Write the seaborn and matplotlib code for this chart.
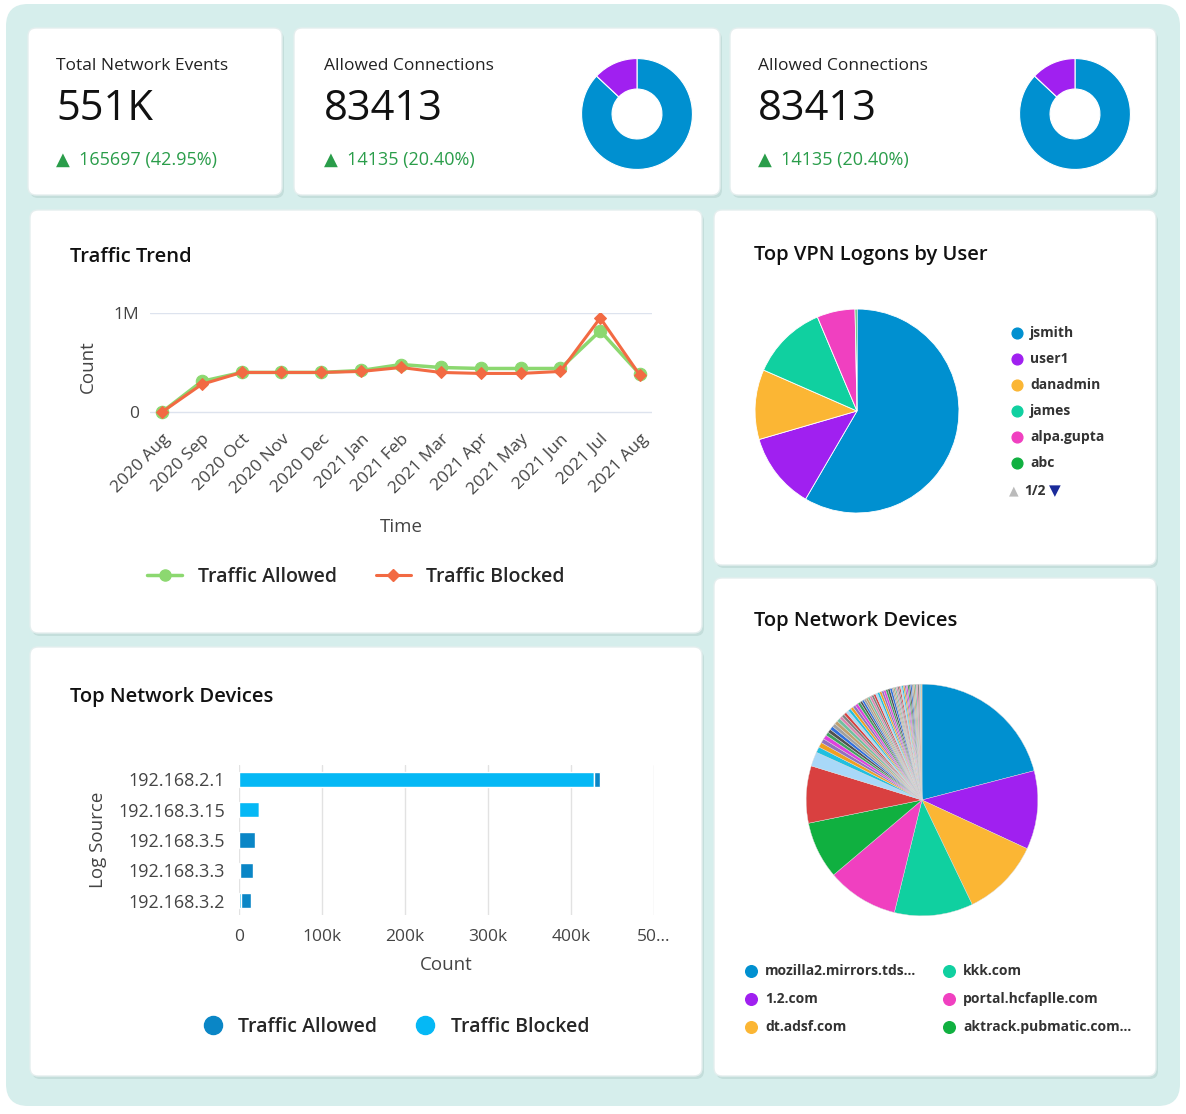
import numpy as np
import pandas as pd
import seaborn as sns
import matplotlib.pyplot as plt
from matplotlib.patches import FancyBboxPatch
from matplotlib.lines import Line2D

# -----------------------------
# Data
months = ["2020 Aug", "2020 Sep", "2020 Oct", "2020 Nov", "2020 Dec", "2021 Jan", "2021 Feb",
          "2021 Mar", "2021 Apr", "2021 May", "2021 Jun", "2021 Jul", "2021 Aug"]
allowed = [0.0, 0.31, 0.40, 0.40, 0.40, 0.42, 0.48, 0.45, 0.44, 0.44, 0.44, 0.82, 0.38]
blocked = [0.0, 0.28, 0.40, 0.40, 0.40, 0.41, 0.45, 0.40, 0.39, 0.39, 0.41, 0.95, 0.37]

sources = ["192.168.2.1", "192.168.3.15", "192.168.3.5", "192.168.3.3", "192.168.3.2"]
src_blocked = [428, 24, 0, 1.5, 2]
src_allowed = [7, 0, 19, 15, 13]

vpn_users = ["jsmith", "user1", "danadmin", "james", "alpa.gupta", "abc"]
vpn_values = [58, 12, 11, 12, 6, 0.3]
vpn_colors = ["#0090d0", "#a020f0", "#fbb634", "#10d0a0", "#f040c0", "#10b040"]

dev_names = ["mozilla2.mirrors.tds...", "1.2.com", "dt.adsf.com", "kkk.com",
             "portal.hcfaplle.com", "aktrack.pubmatic.com..."]
dev_values = [21, 11, 11, 11, 10, 8]
dev_colors = ["#0090d0", "#a020f0", "#fbb634", "#10d0a0", "#f040c0", "#10b040"]
dev_extra = [8, 2, 0.8, 0.7, 0.6, 0.6, 0.5, 0.5, 0.5, 0.5, 0.5, 0.5, 0.4, 0.4, 0.4,
             0.4, 0.4, 0.4, 0.4, 0.4, 0.4, 0.3, 0.3, 0.3, 0.3, 0.3, 0.3, 0.3, 0.3, 0.3,
             0.3, 0.3, 0.3, 0.3, 0.3, 0.3, 0.3, 0.2, 0.2, 0.2, 0.2, 0.2, 0.2, 0.2, 0.2,
             0.2, 0.2, 0.2, 0.2, 0.2, 0.2, 0.2, 0.2, 0.2, 0.2, 0.2, 0.1, 0.1, 0.1, 0.1]
extra_palette = ["#d94040", "#a8d8f8", "#20c0e0", "#f0a020", "#9070c0", "#e040e0", "#40a060",
                 "#505050", "#3070e0", "#a0a0a0", "#c0a070", "#70c0a0", "#e080b0", "#808080"]

kpis = [("Total Network Events", "551K", "165697 (42.95%)"),
        ("Allowed Connections", "83413", "14135 (20.40%)"),
        ("Allowed Connections", "83413", "14135 (20.40%)")]
donut_values = [87, 13]

# -----------------------------
sns.set_theme(style="white")
plt.rcParams["font.family"] = ["Open Sans", "DejaVu Sans"]
W, H = 1186, 1114
fig = plt.figure(figsize=(W / 100, H / 100), dpi=100)

bg = fig.add_axes([0, 0, 1, 1])
bg.set_xlim(0, W)
bg.set_ylim(H, 0)
bg.axis("off")
bg.add_patch(FancyBboxPatch((6, 4), W - 12, H - 12, boxstyle="round,pad=0,rounding_size=22",
                            fc="#d6eeec", ec="none"))
cards = [(28, 28, 254, 167), (294, 28, 426, 167), (730, 28, 426, 167),
         (30, 210, 672, 423), (714, 210, 442, 355), (30, 647, 672, 429), (714, 578, 442, 498)]
for x, y, w, h in cards:
    bg.add_patch(FancyBboxPatch((x + 2, y + 3), w, h, boxstyle="round,pad=0,rounding_size=8",
                                fc="#c4dedb", ec="none"))
    bg.add_patch(FancyBboxPatch((x, y), w, h, boxstyle="round,pad=0,rounding_size=8",
                                fc="white", ec="#e4eeee", lw=1))

# KPI texts
for (title, val, delta), x0 in zip(kpis, [56, 324, 758]):
    bg.text(x0, 66, title, fontsize=12.5, color="#222222", va="center")
    bg.text(x0, 109, val, fontsize=30, color="#111111", va="center", weight="medium")
    bg.text(x0, 160, "▲  " + delta, fontsize=13, color="#2a9d4a", va="center")

# Donuts
for cx in [637, 1075]:
    ax = fig.add_axes([(cx - 56) / W, 1 - (114 + 56) / H, 112 / W, 112 / H])
    ax.pie(donut_values, colors=["#0090d0", "#a020f0"], startangle=90, counterclock=False,
           wedgeprops=dict(width=0.55, edgecolor="white", linewidth=0.8))
    ax.set_xlim(-1.01, 1.01)
    ax.set_ylim(-1.01, 1.01)

# Card titles
bg.text(70, 257, "Traffic Trend", fontsize=14.5, color="#111111", va="center", weight="semibold")
bg.text(754, 255, "Top VPN Logons by User", fontsize=14.5, color="#111111", va="center", weight="semibold")
bg.text(70, 697, "Top Network Devices", fontsize=14.5, color="#111111", va="center", weight="semibold")
bg.text(754, 621, "Top Network Devices", fontsize=14.5, color="#111111", va="center", weight="semibold")

# -----------------------------
# Traffic trend line chart
ax = fig.add_axes([150 / W, 1 - 420 / H, 502 / W, 107 / H])
df = pd.DataFrame({"Time": months, "allowed": allowed, "blocked": blocked})
xs = np.arange(len(months))
sns.lineplot(x=xs, y=df["allowed"], ax=ax, color="#8cd870", marker="o", markersize=9,
             markeredgecolor="#8cd870", lw=2.5)
sns.lineplot(x=xs, y=df["blocked"], ax=ax, color="#f26a43", marker="D", markersize=6,
             markeredgecolor="#f26a43", lw=2.2)
ax.set_ylim(-0.08, 1.0)
ax.set_yticks([0, 1])
ax.set_yticklabels(["0", "1M"], fontsize=12.5, color="#444444")
ax.set_xlim(-0.3, 12.3)
ax.set_xticks(xs)
ax.set_xticklabels(months, rotation=45, ha="right", rotation_mode="anchor", fontsize=12.5, color="#444444")
ax.tick_params(axis="both", length=0, pad=8)
for v in [0, 1]:
    ax.axhline(v, color="#dde3ee", lw=1, zorder=0)
sns.despine(ax=ax, left=True, bottom=True)
ax.set_ylabel("Count", fontsize=13.5, color="#444444", labelpad=12)
ax.set_xlabel("Time", fontsize=13.5, color="#444444")
ax.xaxis.set_label_coords(0.5, -0.92)
h1 = Line2D([], [], color="#8cd870", marker="o", lw=2.5, markersize=8)
h2 = Line2D([], [], color="#f26a43", marker="D", lw=2.2, markersize=6)
fig.legend([h1, h2], ["Traffic Allowed", "Traffic Blocked"], loc="center",
           bbox_to_anchor=(356 / W, 1 - 577 / H), ncol=2, frameon=False,
           prop=dict(size=14, weight="semibold"), handlelength=1.8, columnspacing=2)

# -----------------------------
# Horizontal stacked bars
ax = fig.add_axes([239 / W, 1 - 915 / H, 415 / W, 150 / H])
bdf = pd.DataFrame({"source": sources, "blocked": src_blocked, "allowed": src_allowed})
sns.barplot(data=bdf, y="source", x="blocked", ax=ax, color="#05b8f5", width=0.5, saturation=1)
ax.barh(np.arange(len(sources)), bdf["allowed"], left=bdf["blocked"], height=0.5,
        color="#0a86c6", edgecolor="white", lw=1)
for p in ax.patches:
    p.set_edgecolor("white")
    p.set_linewidth(1)
ax.set_xlim(0, 500)
ax.set_xticks([0, 100, 200, 300, 400, 500])
ax.set_xticklabels(["0", "100k", "200k", "300k", "400k", "50..."], fontsize=12.5, color="#444444")
ax.set_yticklabels(sources, fontsize=13, color="#444444")
ax.tick_params(axis="both", length=0, pad=10)
ax.grid(axis="x", color="#e2e2e2", lw=1)
ax.set_axisbelow(True)
sns.despine(ax=ax, left=True, bottom=True)
ax.set_ylabel("Log Source", fontsize=13.5, color="#444444", labelpad=8)
ax.set_xlabel("Count", fontsize=13.5, color="#444444", labelpad=8)
h1 = Line2D([], [], color="#0a86c6", marker="o", lw=0, markersize=13)
h2 = Line2D([], [], color="#05b8f5", marker="o", lw=0, markersize=13)
fig.legend([h1, h2], ["Traffic Allowed", "Traffic Blocked"], loc="center",
           bbox_to_anchor=(396 / W, 1 - 1027 / H), ncol=2, frameon=False,
           prop=dict(size=14, weight="semibold"), handlelength=1, columnspacing=2)

# -----------------------------
# VPN pie
ax = fig.add_axes([(857 - 103) / W, 1 - (411 + 103) / H, 206 / W, 206 / H])
ax.pie(vpn_values, colors=vpn_colors, startangle=90, counterclock=False,
       wedgeprops=dict(edgecolor="white", linewidth=0.6))
ax.set_xlim(-1.01, 1.01)
ax.set_ylim(-1.01, 1.01)
for i, (u, c) in enumerate(zip(vpn_users, vpn_colors)):
    y = 333 + i * 26
    bg.scatter(1017, y, s=60, color=c)
    bg.text(1030, y, u, fontsize=10, weight="bold", color="#333333", va="center")
bg.text(1009, 491, "▲", fontsize=9, color="#bbbbbb", va="center", family="DejaVu Sans")
bg.text(1024, 491, "1/2", fontsize=10, weight="bold", color="#333333", va="center")
bg.text(1049, 491, "▼", fontsize=11, color="#1a2a9a", va="center", family="DejaVu Sans")

# -----------------------------
# Network devices pie
ax = fig.add_axes([(922 - 117) / W, 1 - (800 + 117) / H, 234 / W, 234 / H])
all_vals = dev_values + dev_extra
all_cols = dev_colors + [extra_palette[i % len(extra_palette)] for i in range(len(dev_extra))]
ax.pie(all_vals, colors=all_cols, startangle=90, counterclock=False,
       wedgeprops=dict(edgecolor="#dddddd", linewidth=0.3))
ax.set_xlim(-1.01, 1.01)
ax.set_ylim(-1.01, 1.01)
for i, (n, c) in enumerate(zip(dev_names, dev_colors)):
    col, row = i // 3, i % 3
    x = 751 + col * 198
    y = 971 + row * 28
    bg.scatter(x, y, s=70, color=c)
    bg.text(x + 14, y, n, fontsize=10, weight="bold", color="#333333", va="center")

fig.savefig("out.png", dpi=100)
